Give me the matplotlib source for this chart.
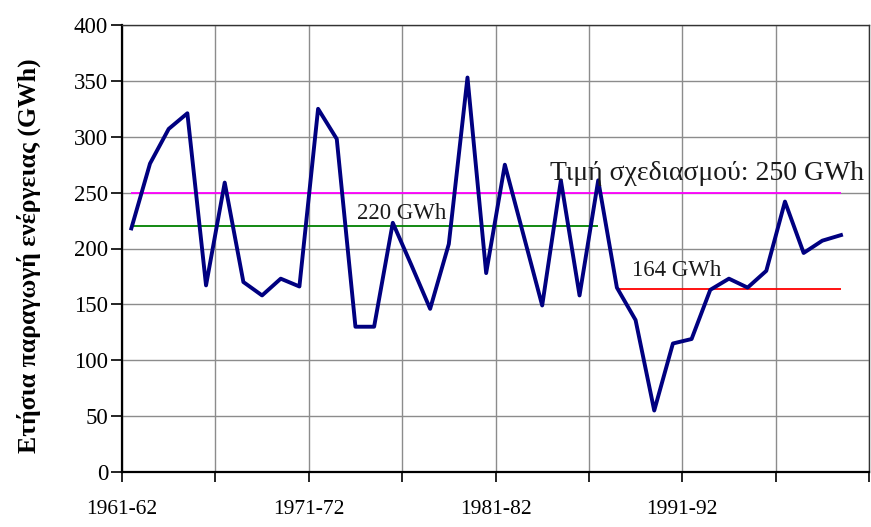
import matplotlib
matplotlib.use("Agg")
import matplotlib.pyplot as plt
import numpy as np

# annual energy production (GWh), hydrological years 1961-62 .. 1999-00
energy = [218, 276, 307, 321, 167, 259, 170, 158, 173, 166,
          325, 298, 130, 130, 223, 185, 146, 204, 353, 178,
          275, 212, 149, 261, 158, 261, 165, 136, 55, 115,
          119, 163, 173, 165, 180, 242, 196, 207, 212]
n_categories = 40
tick_labels = ["1961-62", "1971-72", "1981-82", "1991-92"]

design_value = 250      # whole period
mean_early = 220        # 1961-62 .. 1986-87
mean_late = 164         # 1987-88 .. 1999-00
split_idx = 26

plt.rcParams['font.family'] = ['Liberation Serif', 'DejaVu Serif']

fig = plt.figure(figsize=(8.71, 5.27), dpi=100)
ax = fig.add_axes([122 / 871, 55 / 527, 747 / 871, 447 / 527])

x = np.arange(len(energy)) + 0.5
ax.plot(x, energy, color="#000080", lw=2.8, zorder=4)

ax.hlines(design_value, x[0], x[-1], color="#ff00ff", lw=1.3, zorder=3)
ax.hlines(mean_early, x[0], x[split_idx - 1], color="#008000", lw=1.3, zorder=3)
ax.hlines(mean_late, x[split_idx], x[-1], color="#ff0000", lw=1.3, zorder=3)

txt_color = "#1a1a1a"
ax.text(12.6, 226, f"{mean_early} GWh", fontsize=16.5, color=txt_color, zorder=5)
ax.text(27.3, 175, f"{mean_late} GWh", fontsize=16.5, color=txt_color, zorder=5)
ax.text(22.9, 261, f"Τιμή σχεδιασμού: {design_value} GWh", fontsize=20,
        color=txt_color, zorder=5)

ax.set_xlim(0, n_categories)
ax.set_ylim(0, 400)
ax.set_yticks(np.arange(0, 401, 50))
ax.set_xticks(np.arange(0, n_categories + 1, 5))
ax.set_xticklabels([tick_labels[i // 2] if i % 2 == 0 and i // 2 < len(tick_labels) else ""
                    for i in range(9)])
ax.grid(True, color="#8c8c8c", lw=1.0)
ax.set_axisbelow(True)

ax.tick_params(axis="both", direction="out", colors="black")
ax.tick_params(axis="y", length=8, width=1.2, pad=2, labelsize=16.5)
ax.tick_params(axis="x", length=7, width=1.2, pad=13, labelsize=15.5)

for side in ["top", "right"]:
    ax.spines[side].set_color("#333333")
    ax.spines[side].set_linewidth(1.0)
for side in ["left", "bottom"]:
    ax.spines[side].set_color("black")
    ax.spines[side].set_linewidth(1.6)

ax.set_ylabel("Ετήσια παραγωγή ενέργειας (GWh)", fontsize=18.5,
              fontweight="bold")
ax.yaxis.set_label_coords(-0.108, 0.485)

fig.savefig("out.png", dpi=100)
